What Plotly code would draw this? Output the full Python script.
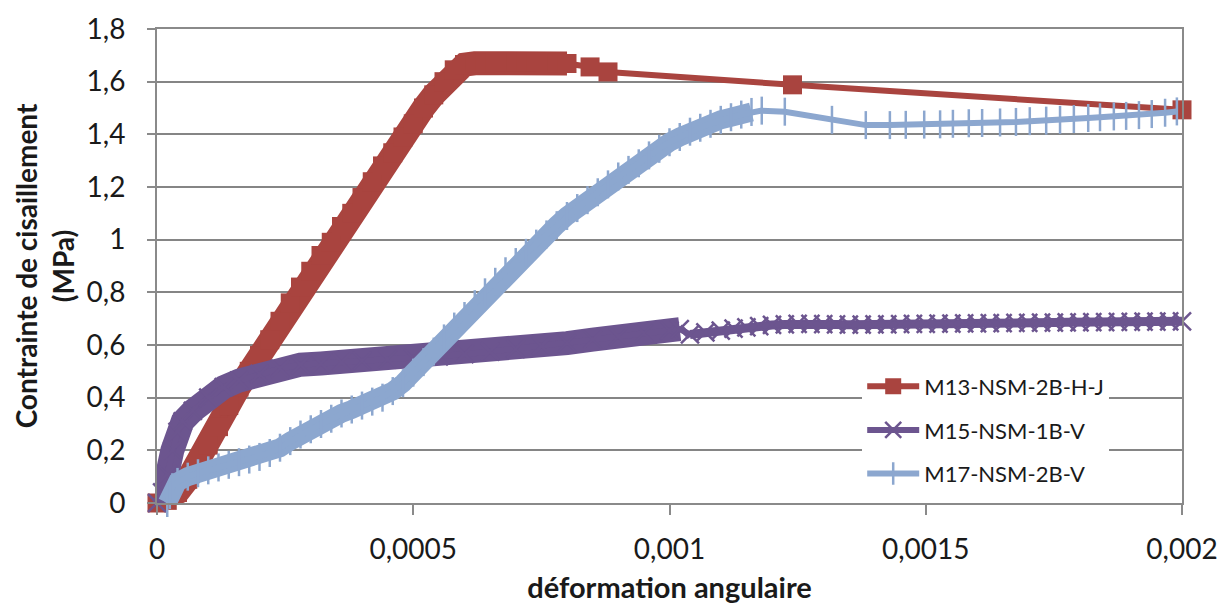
import plotly.graph_objects as go

# ---------------- data ----------------
# M13-NSM-2B-H-J : dense loading branch + sparse tail
m13_dense_x = [0, 0.00002, 0.00004, 0.00006, 0.00008, 0.0001, 0.00012, 0.00014, 0.00016,
               0.00018, 0.0002, 0.00022, 0.00024, 0.00026, 0.00028, 0.0003, 0.00032, 0.00034,
               0.00036, 0.00038, 0.0004, 0.00042, 0.00044, 0.00046, 0.00048, 0.0005, 0.00052,
               0.00054, 0.00056, 0.00058, 0.0006, 0.00062, 0.00064, 0.00066, 0.00068, 0.0007,
               0.00072, 0.00074, 0.00076, 0.00078, 0.0008]
m13_dense_y = [0, 0.01, 0.04, 0.09, 0.15, 0.22, 0.29, 0.37, 0.44,
               0.50, 0.56, 0.62, 0.69, 0.76, 0.82, 0.88, 0.94, 0.99,
               1.05, 1.10, 1.16, 1.22, 1.28, 1.33, 1.39, 1.44, 1.50,
               1.55, 1.60, 1.645, 1.665, 1.670, 1.672, 1.673, 1.675, 1.676,
               1.676, 1.675, 1.673, 1.671, 1.669]
m13_tail_x = [0.000845, 0.00088, 0.00124, 0.002]
m13_tail_y = [1.656, 1.637, 1.588, 1.493]

# M15-NSM-1B-V : dense branch + marked tail
m15_dense_x = [0, 0.00001, 0.00002, 0.00003, 0.00004, 0.00005, 0.00007, 0.0001, 0.00013,
               0.00016, 0.0002, 0.00024, 0.00028, 0.00032, 0.00036, 0.0004, 0.00045, 0.0005,
               0.00055, 0.0006, 0.00065, 0.0007, 0.00075, 0.0008, 0.00085, 0.0009, 0.00095,
               0.001, 0.00102]
m15_dense_y = [0, 0.04, 0.11, 0.20, 0.27, 0.31, 0.35, 0.40, 0.44,
               0.465, 0.49, 0.51, 0.525, 0.53, 0.535, 0.54, 0.545, 0.55,
               0.557, 0.565, 0.575, 0.585, 0.596, 0.607, 0.62, 0.632, 0.645,
               0.655, 0.66]
m15_tail_x = [0.00104, 0.00107, 0.0011, 0.001125, 0.00115, 0.001175, 0.0012, 0.001225,
              0.00125, 0.001275, 0.0013, 0.001325, 0.00135, 0.001375, 0.0014, 0.001425,
              0.00145, 0.001475, 0.0015, 0.001525, 0.00155, 0.001575, 0.0016, 0.001625,
              0.00165, 0.001675, 0.0017, 0.001725, 0.00175, 0.001775, 0.0018, 0.001825,
              0.00185, 0.001875, 0.0019, 0.001925, 0.00195, 0.001975, 0.002]
m15_tail_y = [0.640, 0.648, 0.655, 0.662, 0.667, 0.672, 0.676, 0.678,
              0.680, 0.680, 0.679, 0.678, 0.677, 0.677, 0.678, 0.678,
              0.679, 0.680, 0.680, 0.681, 0.681, 0.682, 0.682, 0.683,
              0.683, 0.684, 0.684, 0.685, 0.685, 0.686, 0.686, 0.687,
              0.687, 0.688, 0.688, 0.689, 0.689, 0.690, 0.690]

# M17-NSM-2B-V : dense branch + sparse tail
m17_dense_x = [0.00002, 0.000025, 0.00003, 0.00004, 0.00006, 0.00008, 0.0001, 0.00012,
               0.00014, 0.00016, 0.00018, 0.0002, 0.00022, 0.00024, 0.00026, 0.00028,
               0.0003, 0.00032, 0.00034, 0.00036, 0.00038, 0.0004, 0.00042, 0.00044,
               0.00046, 0.00048, 0.0005, 0.00052, 0.00054, 0.00056, 0.00058, 0.0006,
               0.00062, 0.00064, 0.00066, 0.00068, 0.0007, 0.00072, 0.00074, 0.00076,
               0.00078, 0.0008, 0.00082, 0.00084, 0.00086, 0.00088, 0.0009, 0.00092,
               0.00094, 0.00096, 0.00098, 0.001, 0.00102, 0.00104, 0.00106, 0.00108,
               0.0011, 0.00112, 0.00114, 0.00116]
m17_dense_y = [0.0, 0.03, 0.06, 0.08, 0.10, 0.113, 0.124, 0.135,
               0.145, 0.155, 0.165, 0.175, 0.19, 0.21, 0.235, 0.26,
               0.28, 0.30, 0.32, 0.34, 0.355, 0.37, 0.385, 0.40,
               0.425, 0.455, 0.495, 0.535, 0.575, 0.625, 0.67, 0.71,
               0.755, 0.80, 0.84, 0.88, 0.915, 0.95, 0.985, 1.02,
               1.055, 1.09, 1.12, 1.15, 1.18, 1.21, 1.24, 1.265,
               1.29, 1.32, 1.345, 1.37, 1.39, 1.41, 1.425, 1.44,
               1.455, 1.465, 1.475, 1.485]
m17_tail_x = [0.00118, 0.001225, 0.001317, 0.001383, 0.00143, 0.001461, 0.001497, 0.001528,
              0.001553, 0.001584, 0.00161, 0.001645, 0.001676, 0.001703, 0.001735, 0.001762,
              0.001789, 0.001817, 0.00184, 0.001867, 0.001891, 0.001916, 0.001941, 0.001967,
              0.00199]
m17_tail_y = [1.490, 1.486, 1.455, 1.435, 1.435, 1.436, 1.437, 1.438,
              1.440, 1.442, 1.443, 1.445, 1.447, 1.450, 1.452, 1.455,
              1.458, 1.462, 1.465, 1.468, 1.470, 1.473, 1.477, 1.482,
              1.487]

x_tick_vals = [0, 0.0005, 0.001, 0.0015, 0.002]
x_tick_text = ["0", "0,0005", "0,001", "0,0015", "0,002"]
y_tick_vals = [0, 0.2, 0.4, 0.6, 0.8, 1.0, 1.2, 1.4, 1.6, 1.8]
y_tick_text = ["0", "0,2", "0,4", "0,6", "0,8", "1", "1,2", "1,4", "1,6", "1,8"]

series_names = ["M13-NSM-2B-H-J", "M15-NSM-1B-V", "M17-NSM-2B-V"]

# ---------------- figure ----------------
RED = "#A9443F"
PURPLE = "#6C558F"
BLUE = "#8CA7CF"
FONT = "Lato"
TXT = "#1a1a1a"

fig = go.Figure()

series = [
    # name, colour, dense x/y, tail x/y, marker, dense band width, tail band width, line width
    (series_names[0], RED, m13_dense_x, m13_dense_y, m13_tail_x, m13_tail_y,
     dict(symbol="square", size=19, color=RED, line=dict(width=0)), 24, 0, 6),
    (series_names[1], PURPLE, m15_dense_x, m15_dense_y, m15_tail_x, m15_tail_y,
     dict(symbol="x-thin", size=18, color=PURPLE, line=dict(width=2.5, color=PURPLE)), 24, 9, 6),
    (series_names[2], BLUE, m17_dense_x, m17_dense_y, m17_tail_x, m17_tail_y,
     dict(symbol="line-ns", size=20, color=BLUE, line=dict(width=2.5, color=BLUE)), 19, 0, 6),
]

for name, color, dx, dy, tx, ty, marker, band_w, tail_band_w, line_w in series:
    # thick band for the densely sampled part
    fig.add_trace(go.Scatter(
        x=dx, y=dy, mode="lines", line=dict(color=color, width=band_w),
        showlegend=False, hoverinfo="skip", cliponaxis=False, legendgroup=name,
    ))
    if tail_band_w:
        fig.add_trace(go.Scatter(
            x=tx, y=ty, mode="lines", line=dict(color=color, width=tail_band_w),
            showlegend=False, hoverinfo="skip", cliponaxis=False, legendgroup=name,
        ))
    fig.add_trace(go.Scatter(
        x=dx + tx, y=dy + ty, mode="lines+markers", name=name,
        line=dict(color=color, width=line_w), marker=marker,
        cliponaxis=False, legendgroup=name,
    ))

fig.update_layout(
    width=1219, height=606,
    margin=dict(l=157, r=37, t=29, b=103, autoexpand=False),
    paper_bgcolor="white", plot_bgcolor="white",
    font=dict(family=FONT, color=TXT),
    showlegend=True,
    legend=dict(
        x=0.688, y=0.29, xanchor="left", yanchor="top",
        bgcolor="white", borderwidth=0,
        font=dict(family=FONT, size=22, color=TXT),
        itemwidth=52, traceorder="grouped", tracegroupgap=12,
    ),
    xaxis=dict(
        range=[0, 0.002], tickvals=x_tick_vals, ticktext=x_tick_text,
        showgrid=False, zeroline=False, automargin=False,
        showline=True, linecolor="#8a8a8a", linewidth=2, mirror=True,
        ticks="outside", ticklen=10, tickcolor="#8a8a8a", tickwidth=1.5,
        tickfont=dict(family=FONT, size=28, color=TXT),
        ticklabelstandoff=10,
        title=dict(text="<b>déformation angulaire</b>", font=dict(family=FONT, size=29, color=TXT),
                   standoff=14),
    ),
    yaxis=dict(
        range=[0, 1.8], tickvals=y_tick_vals, ticktext=y_tick_text,
        showgrid=True, gridcolor="#858585", gridwidth=1.5, zeroline=False, automargin=False,
        showline=True, linecolor="#8a8a8a", linewidth=2, mirror=True,
        ticks="outside", ticklen=8, tickcolor="#8a8a8a", tickwidth=1.5,
        tickfont=dict(family=FONT, size=28, color=TXT),
        ticklabelstandoff=16,
        title=dict(text="<b>Contrainte de cisaillement<br>(MPa)</b>",
                   font=dict(family=FONT, size=28, color=TXT), standoff=4),
    ),
)

fig.write_html("out.html", config={"displayModeBar": False},
               post_script="document.body.style.margin='0px';")
